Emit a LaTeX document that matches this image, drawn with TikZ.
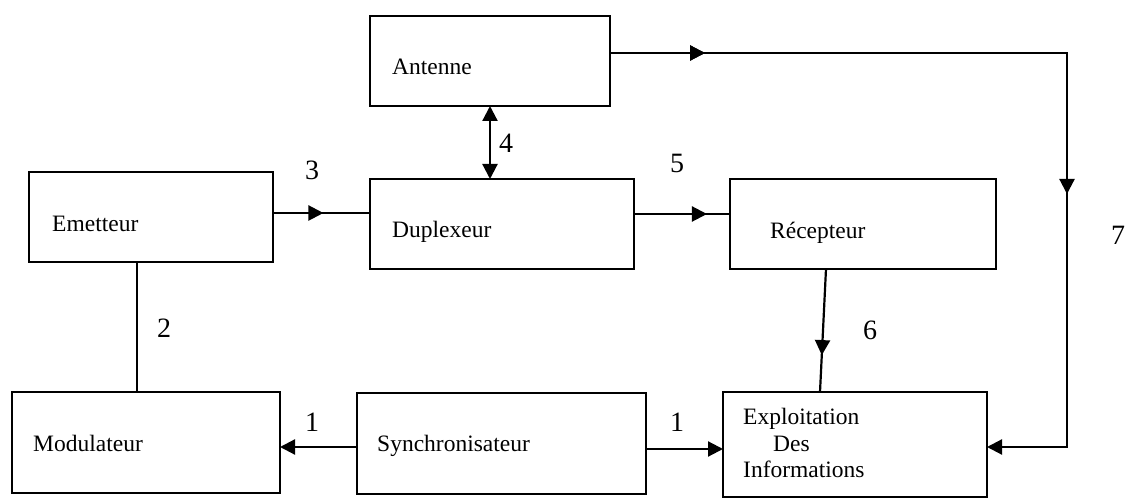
\documentclass[tikz,border=0pt]{standalone}
\usepackage{fontspec}
\setmainfont{Liberation Serif}
\usetikzlibrary{arrows.meta,decorations.markings}
\begin{document}
\begin{tikzpicture}[x=1pt,y=-1pt,
  >={Triangle[length=15pt,width=15pt]},
  blk/.style={draw, line width=2pt, inner sep=0pt, outer sep=0pt},
  lbl/.style={anchor=base west, inner sep=0pt, font=\fontsize{23.5}{28}\selectfont},
  num/.style={inner sep=0pt, font=\fontsize{28}{32}\selectfont},
  wire/.style={line width=2.2pt},
  midtip/.style={postaction={decorate},
    decoration={markings, mark=at position #1 with {\arrow{>}}}}
]
\useasboundingbox (0,0) rectangle (1128,502);

% blocks
\node[blk, minimum width=240pt, minimum height=90pt]  (ant)  at (490,61)    {};
\node[blk, minimum width=244pt, minimum height=90pt]  (emet) at (151,217)   {};
\node[blk, minimum width=264pt, minimum height=90pt]  (dup)  at (502,224)   {};
\node[blk, minimum width=266pt, minimum height=90pt]  (rec)  at (863,224)   {};
\node[blk, minimum width=268pt, minimum height=101pt] (mod)  at (146,442.5) {};
\node[blk, minimum width=289pt, minimum height=101pt] (sync) at (501.5,443.5) {};
\node[blk, minimum width=264pt, minimum height=105pt] (expl) at (855,444.5) {};

% block captions
\node[lbl] (tant)  at (392,75)  {Antenne};
\node[lbl] (temet) at (52,232)  {Emetteur};
\node[lbl] (tdup)  at (392,238) {Duplexeur};
\node[lbl] (trec)  at (770,239) {Récepteur};
\node[lbl] (tmod)  at (33,452)  {Modulateur};
\node[lbl] (tsync) at (377,452) {Synchronisateur};
\node[lbl] (texa)  at (743,425) {Exploitation};
\node[lbl] (texb)  at (773,452) {Des};
\node[lbl] (texc)  at (743,478) {Informations};

% connections
\draw[wire] (emet.south -| 137,0) -- (mod.north -| 137,0);
\draw[wire, midtip=0.52] (emet.east |- 0,213) -- (dup.west |- 0,213);
\draw[wire, <->] (ant.south) -- (dup.north -| ant.south);
\draw[wire, midtip=0.76] (dup.east |- 0,214) -- (rec.west |- 0,214);
\draw[wire, midtip=0.7] (rec.south -| 826,0) -- (expl.north -| 820,0);
\coordinate (c1) at (1067,53);
\coordinate (c2) at (1067,447);
\draw[wire, ->, midtip=95pt,
  postaction={decorate, decoration={markings, mark=at position 598pt with {\arrow{>}}}}]
  (ant.east |- c1) -- (c1) -- (c2) -- (expl.east |- c2);
\draw[wire, ->] (sync.west |- 0,447) -- (mod.east |- 0,447);
\draw[wire, ->] (sync.east |- 0,449) -- (expl.west |- 0,449);

% link numbers
\node[num] (n1a) at (312,422)  {1};
\node[num] (n1b) at (677,422)  {1};
\node[num] (n2)  at (164,328)  {2};
\node[num] (n3)  at (312,170)  {3};
\node[num] (n4)  at (506,143)  {4};
\node[num] (n5)  at (677,163)  {5};
\node[num] (n6)  at (870,330)  {6};
\node[num] (n7)  at (1118,235) {7};
\end{tikzpicture}
\end{document}
